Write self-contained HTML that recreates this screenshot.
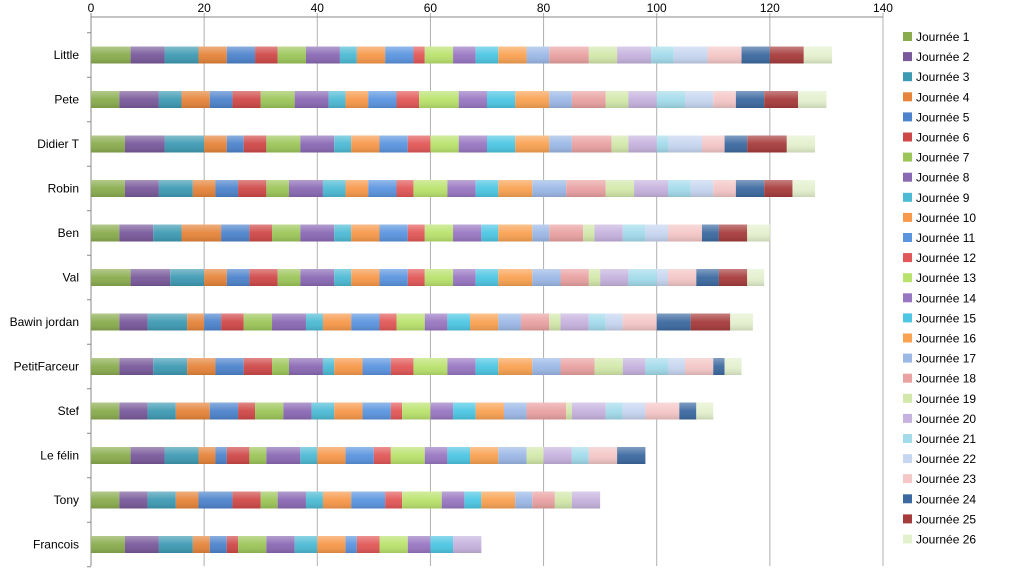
<!DOCTYPE html>
<html><head><meta charset="utf-8"><style>
body{margin:0;background:#fff;font-family:"Liberation Sans",sans-serif;}
svg text{font-family:"Liberation Sans",sans-serif;font-size:12px;fill:#000;}
</style></head><body>
<svg id="chart" width="1024" height="581" xmlns="http://www.w3.org/2000/svg">
<defs><linearGradient id="shine" x1="0" y1="0" x2="0" y2="1">
<stop offset="0" stop-color="#fff" stop-opacity="0.35"/>
<stop offset="0.5" stop-color="#fff" stop-opacity="0.05"/>
<stop offset="1" stop-color="#000" stop-opacity="0.12"/>
</linearGradient></defs>
</svg>
<script>
const players = ["Little","Pete","Didier T","Robin","Ben","Val","Bawin jordan","PetitFarceur","Stef","Le félin","Tony","Francois"];
const days = ["Journée 1","Journée 2","Journée 3","Journée 4","Journée 5","Journée 6","Journée 7","Journée 8","Journée 9","Journée 10","Journée 11","Journée 12","Journée 13","Journée 14","Journée 15","Journée 16","Journée 17","Journée 18","Journée 19","Journée 20","Journée 21","Journée 22","Journée 23","Journée 24","Journée 25","Journée 26"];
const xTicks = [0,20,40,60,80,100,120,140];
const little = [7,6,6,5,5,4,5,6,3,5,5,2,5,4,4,5,4,7,5,6,4,6,6,5,6,5];
const pete = [5,7,4,5,4,5,6,6,3,4,5,4,7,5,5,6,4,6,4,5,5,5,4,5,6,5];
const didier = [6,7,7,4,3,4,6,6,3,5,5,4,5,5,5,6,4,7,3,5,2,6,4,4,7,5];
const robin = [6,6,6,4,4,5,4,6,4,4,5,3,6,5,4,6,6,7,5,6,4,4,4,5,5,4];
const ben = [5,6,5,7,5,4,5,6,3,5,5,3,5,5,3,6,3,6,2,5,4,4,6,3,5,4];
const val = [7,7,6,4,4,5,4,6,3,5,5,3,5,4,4,6,5,5,2,5,5,2,5,4,5,3];
const bawin = [5,5,7,3,3,4,5,6,3,5,5,3,5,4,4,5,4,5,2,5,3,3,6,6,7,4];
const petit = [5,6,6,5,5,5,3,6,2,5,5,4,6,5,4,6,5,6,5,4,4,3,5,2,0,3];
const stef = [5,5,5,6,5,3,5,5,4,5,5,2,5,4,4,5,4,7,1,6,3,4,6,3,0,3];
const felin = [7,6,6,3,2,4,3,6,3,5,5,3,6,4,4,5,5,0,3,5,3,0,5,5,0,0];
const tony = [5,5,5,4,6,5,3,5,3,5,6,3,7,4,3,6,3,4,3,5,0,0,0,0,0,0];
const francois = [6,6,6,3,3,2,5,5,4,5,2,4,5,4,4,0,0,0,0,5,0,0,0,0,0,0];
const series = [little,pete,didier,robin,ben,val,bawin,petit,stef,felin,tony,francois];
const colors = ["#8aac4e","#78599a","#3e9ab3","#e5843a","#4d83cc","#cf4848","#9cc659","#8a69b4","#4cbad4","#f7984a","#5a94df","#e25757","#b9e26c","#9877c2","#4cc6e3","#f9a252","#9bb8e6","#e9a1a1","#d2e8aa","#c6b2de","#a3dbeb","#c6d5f0","#f4c6c6","#3c69a0","#a63b3b","#e3f0cd"];

const svg = document.getElementById('chart');
const NS = "http://www.w3.org/2000/svg";
const X0 = 91, UNIT = 5.657, TOP = 17, BOTTOM = 566, ROW0 = 55, ROWH = 44.5, BARH = 17;
function xs(v){return X0 + v*UNIT;}
function ys(i){return ROW0 + i*ROWH;}
function mk(tag, attrs){const e=document.createElementNS(NS,tag);for(const k in attrs)e.setAttribute(k,attrs[k]);svg.appendChild(e);return e;}

xTicks.forEach(t=>{
  const g = mk('line',{x1:xs(t),x2:xs(t),y1:TOP-4,y2:BOTTOM,stroke:t===0?'#888':'#b0b0b0','stroke-width':1});
  
  
  const tx = mk('text',{x:xs(t),y:TOP-5,'text-anchor':'middle'});
  tx.textContent = t;
  
  
});
const ax = mk('line',{x1:X0,x2:xs(140),y1:TOP,y2:TOP,stroke:'#888'});


for(let i=0;i<=players.length;i++){
  const y = ROW0 - ROWH/2 + i*ROWH;
  const tk = mk('line',{x1:X0-4,x2:X0,y1:y,y2:y,stroke:'#888'});
  
  
}
players.forEach((p,i)=>{
  const t = mk('text',{x:79,y:ys(i)+4,'text-anchor':'end'});
  t.textContent = p;
  
  
  let cum = 0;
  series[i].forEach((v,d)=>{
    if(v>0){
      const r = mk('rect',{x:xs(cum),y:ys(i)-BARH/2,width:v*UNIT,height:BARH,fill:colors[d]});
      
      
    }
    cum += v;
  });
  const sh = mk('rect',{x:X0,y:ys(i)-BARH/2,width:cum*UNIT,height:BARH,fill:'url(#shine)'});
  
  
});
days.forEach((d,j)=>{
  const y = 37 + j*20.1;
  const s = mk('rect',{x:903,y:y-5,width:9,height:9,fill:colors[j]});
  
  
  const t = mk('text',{x:916,y:y+4});
  t.textContent = d;
  
  
});
</script>
</body></html>
